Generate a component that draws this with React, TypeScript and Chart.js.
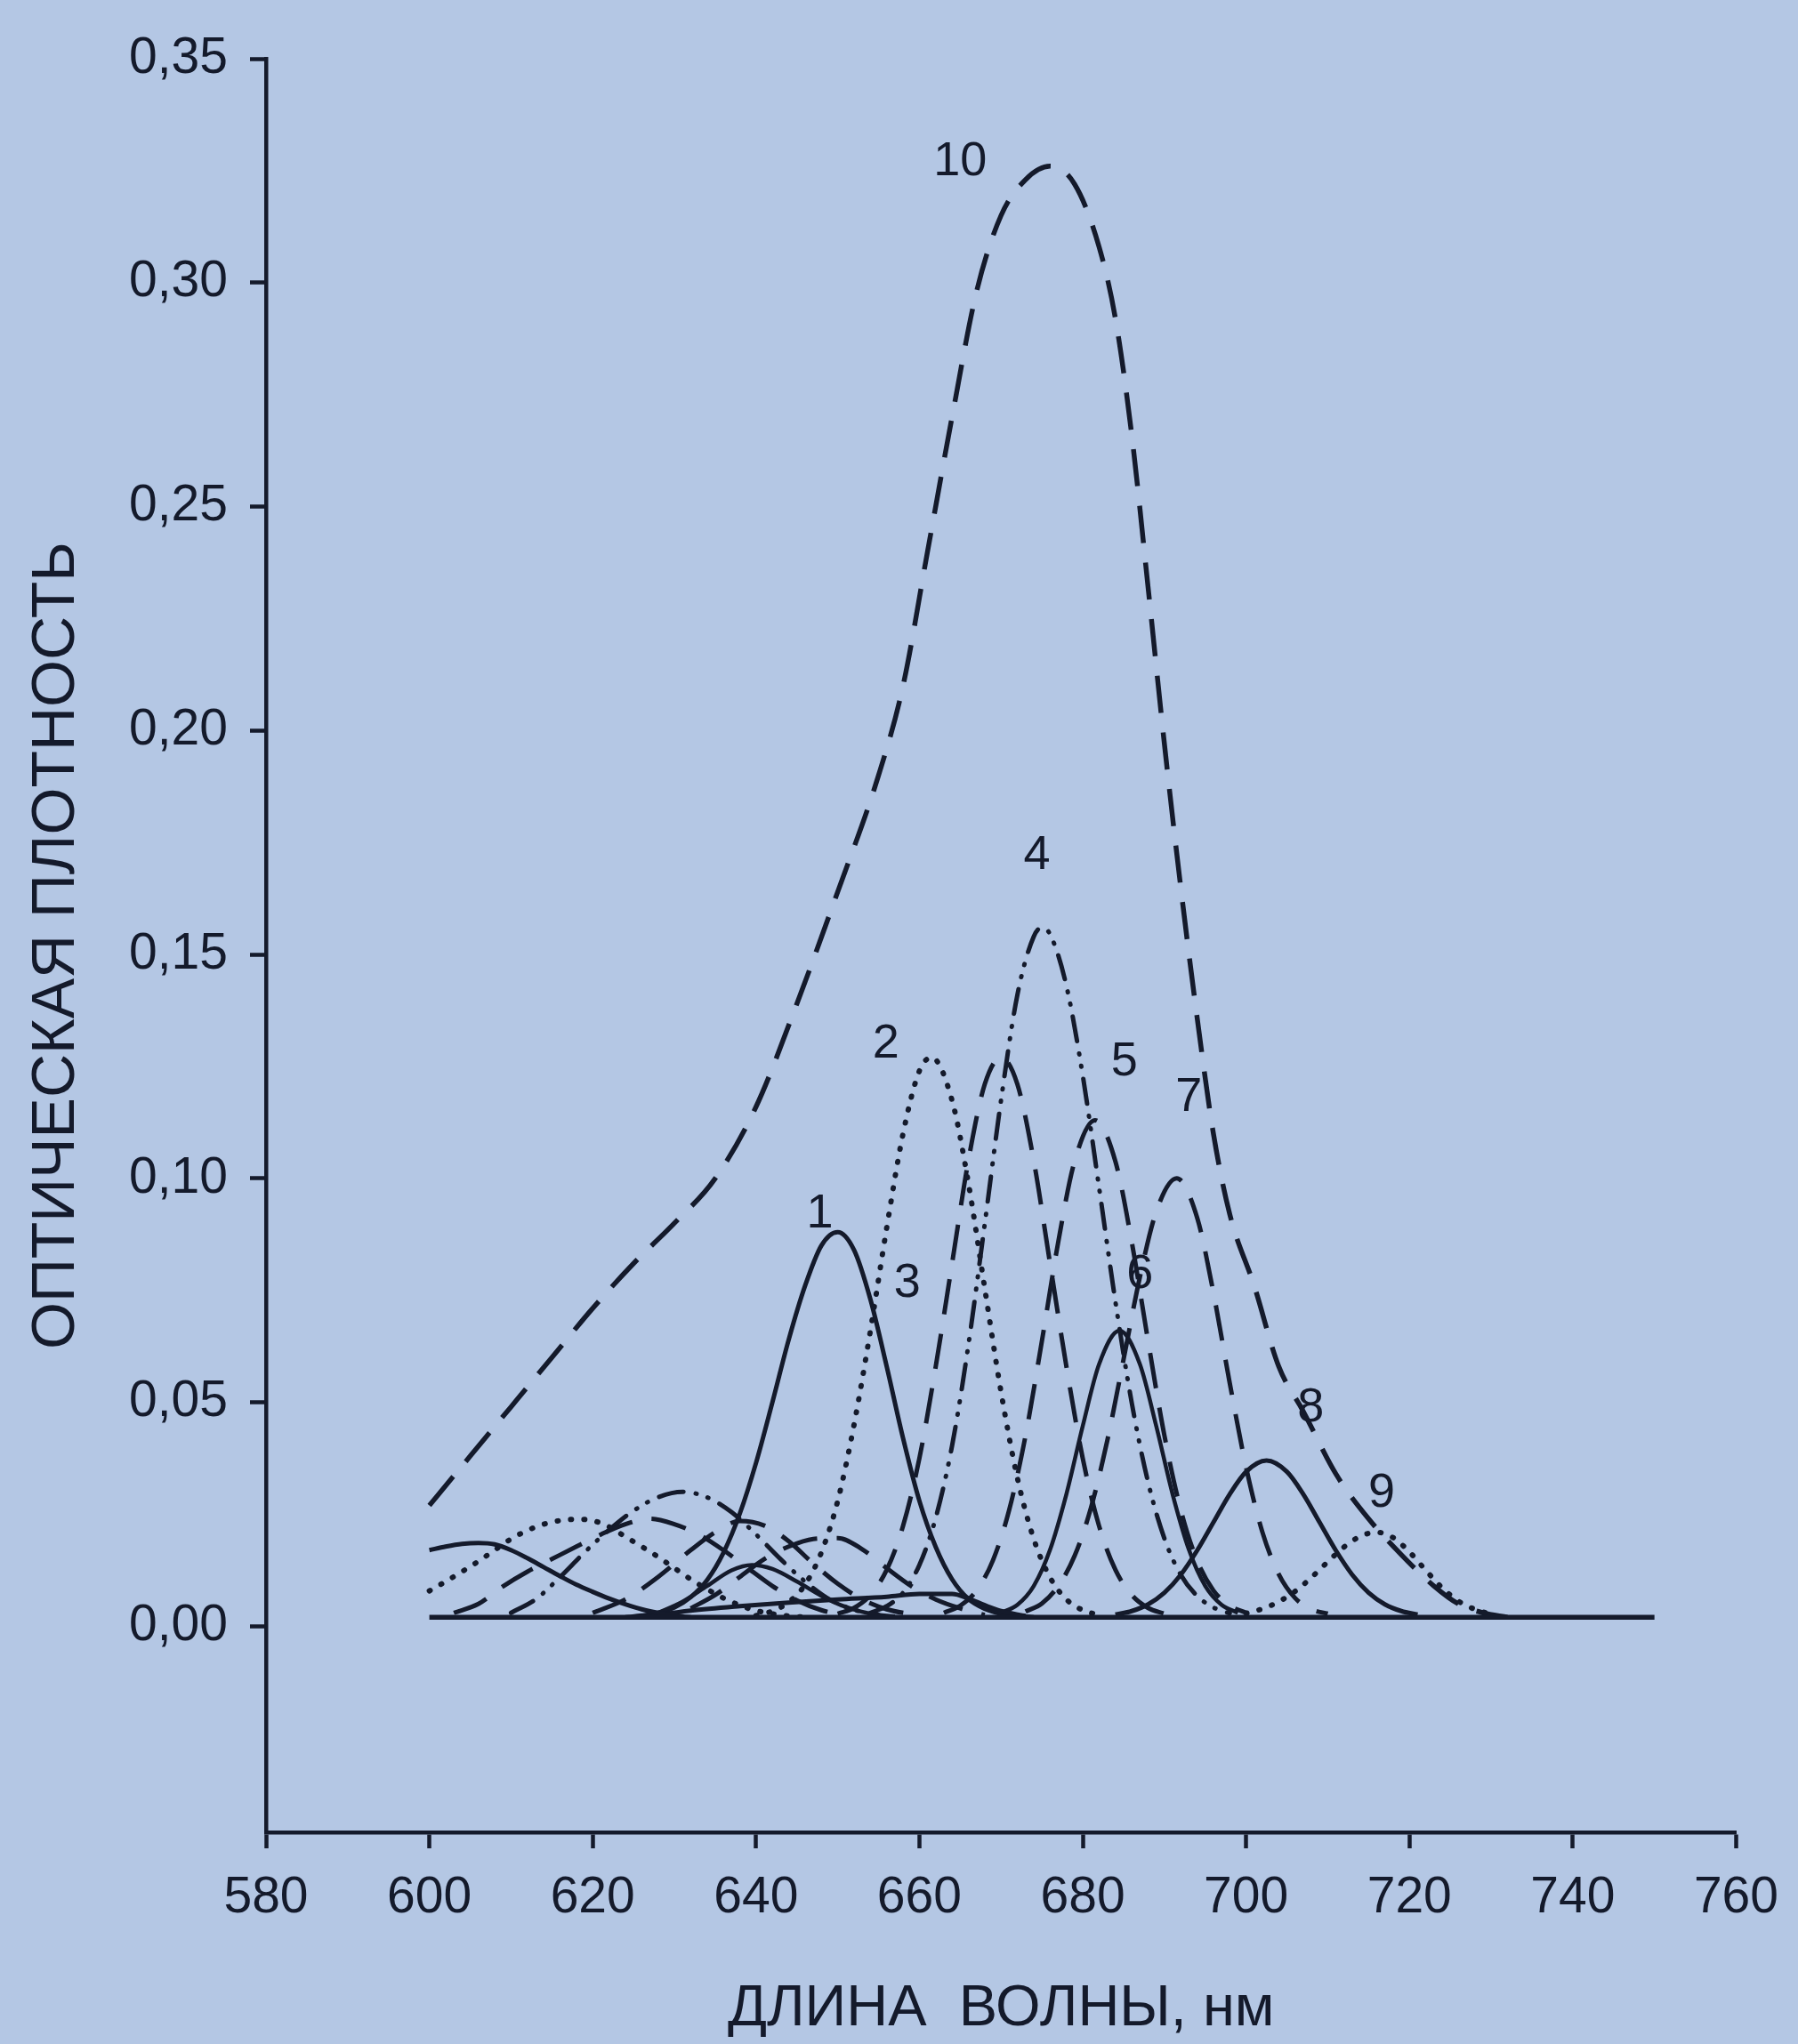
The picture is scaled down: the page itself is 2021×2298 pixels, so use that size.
import React, { useEffect, useRef } from 'react';
import { Chart, registerables } from 'chart.js';

Chart.register(...registerables);

const INK = '#141a2b';
const PAPER = '#b4c7e4';
const FONT = '"Liberation Sans", Arial, Helvetica, sans-serif';

// ---- axes ----
const yTickValues = [0, 0.05, 0.1, 0.15, 0.2, 0.25, 0.3, 0.35];
const xTitle = 'ДЛИНА  ВОЛНЫ, нм';
const yTitle = 'ОПТИЧЕСКАЯ ПЛОТНОСТЬ';

// ---- curve 10 (sum) ----
const wl10 = [600, 605, 610, 615, 620, 625, 630, 635, 640, 645, 650, 655, 658, 661, 664, 667, 670, 673, 676, 679, 682, 684, 686, 688, 690, 692, 694, 696, 698, 701, 704, 707, 711, 715, 719, 723, 726, 729, 732];
const od10 = [0.027, 0.038, 0.049, 0.06, 0.071, 0.081, 0.09, 0.1, 0.116, 0.139, 0.164, 0.19, 0.21, 0.24, 0.27, 0.298, 0.315, 0.323, 0.326, 0.322, 0.308, 0.292, 0.266, 0.232, 0.197, 0.165, 0.136, 0.11, 0.092, 0.076, 0.058, 0.048, 0.034, 0.024, 0.016, 0.009, 0.005, 0.003, 0.002];

// ---- main components ----
const wl1 = [624, 626, 628, 630, 632, 634, 636, 638, 640, 642, 644, 646, 648, 650, 652, 654, 656, 658, 660, 662, 664, 666, 668, 670, 674];
const od1 = [0.002, 0.0024, 0.003, 0.0042, 0.0065, 0.0103, 0.0164, 0.0251, 0.0365, 0.05, 0.064, 0.076, 0.085, 0.088, 0.084, 0.073, 0.058, 0.042, 0.028, 0.0177, 0.0105, 0.0061, 0.0039, 0.0028, 0.002];

const wl2 = [640, 642, 644, 646, 648, 650, 652, 654, 656, 658, 660, 661.5, 664, 666, 668, 670, 672, 674, 676, 678, 680, 682];
const od2 = [0.0024, 0.0034, 0.0054, 0.0093, 0.0165, 0.028, 0.045, 0.066, 0.089, 0.11, 0.124, 0.127, 0.1174, 0.099, 0.0755, 0.0523, 0.0331, 0.0195, 0.0109, 0.006, 0.0036, 0.0025];

const wl3 = [650, 652, 654, 656, 658, 660, 662, 664, 666, 668, 670, 672, 674, 676, 678, 680, 682, 684, 686, 688, 690];
const od3 = [0.0028, 0.0041, 0.007, 0.0126, 0.0224, 0.0375, 0.058, 0.081, 0.104, 0.121, 0.127, 0.121, 0.104, 0.081, 0.058, 0.0375, 0.0224, 0.0126, 0.007, 0.0041, 0.0028];

const wl4 = [654, 656, 658, 660, 662, 664, 666, 668, 670, 672, 674, 675, 676, 678, 680, 682, 684, 686, 688, 690, 692, 694, 696, 698];
const od4 = [0.003, 0.0045, 0.0075, 0.0137, 0.0242, 0.0403, 0.0628, 0.0898, 0.1175, 0.141, 0.154, 0.156, 0.1545, 0.143, 0.123, 0.098, 0.0725, 0.0499, 0.0322, 0.0196, 0.0115, 0.0068, 0.0042, 0.0029];

const wl5 = [663, 665, 667, 669, 671, 673, 675, 677, 679, 681.5, 684, 686, 688, 690, 692, 694, 696, 698, 700];
const od5 = [0.003, 0.0046, 0.008, 0.0147, 0.026, 0.0426, 0.0637, 0.0858, 0.1038, 0.113, 0.1038, 0.0858, 0.0637, 0.0426, 0.026, 0.0147, 0.008, 0.0046, 0.003];

const wl6 = [670, 672, 674, 676, 678, 680, 682, 684.5, 687, 689, 691, 693, 695, 697, 699];
const od6 = [0.003, 0.0048, 0.009, 0.0171, 0.0295, 0.0447, 0.0585, 0.066, 0.0585, 0.0447, 0.0295, 0.0171, 0.009, 0.0048, 0.003];

const wl7 = [673, 675, 677, 679, 681, 683, 685, 687, 689, 691.5, 694, 696, 698, 700, 702, 704, 706, 708, 710];
const od7 = [0.0033, 0.0051, 0.009, 0.0157, 0.0264, 0.0414, 0.0596, 0.078, 0.0926, 0.1, 0.0913, 0.0745, 0.0543, 0.0355, 0.021, 0.0116, 0.0063, 0.0038, 0.0028];

const wl8 = [684, 686, 688, 690, 692, 694, 696, 698, 700, 702.5, 705, 707, 709, 711, 713, 715, 717, 719, 721];
const od8 = [0.0026, 0.0034, 0.0049, 0.0075, 0.0115, 0.0169, 0.0232, 0.0295, 0.0345, 0.037, 0.0345, 0.0295, 0.0232, 0.0169, 0.0115, 0.0075, 0.0049, 0.0034, 0.0026];

const wl9 = [700, 702, 704, 706, 708, 710, 712, 714, 716, 718, 720, 722, 724, 726, 728, 730];
const od9 = [0.0029, 0.0039, 0.0055, 0.0078, 0.0109, 0.0144, 0.0177, 0.0201, 0.021, 0.0198, 0.0166, 0.0125, 0.0086, 0.0056, 0.0038, 0.0027];

// ---- small satellite bands (600–670 nm) ----
const wlS1 = [600, 602, 604, 606, 608, 610, 612, 614, 616, 618, 620, 622, 624, 626, 628, 630, 632];
const odS1 = [0.017, 0.0178, 0.0184, 0.0186, 0.0183, 0.017, 0.0152, 0.0132, 0.0112, 0.0093, 0.0077, 0.0062, 0.0049, 0.0038, 0.003, 0.0024, 0.002];

const wlS2 = [600, 602, 604, 606, 608, 610, 612, 614, 616, 618, 620, 622, 624, 626, 628, 630, 632, 634, 636, 638, 640, 643, 646];
const odS2 = [0.0079, 0.01, 0.0122, 0.0145, 0.017, 0.0195, 0.0214, 0.0228, 0.0236, 0.0239, 0.0236, 0.0222, 0.02, 0.0178, 0.0155, 0.013, 0.0105, 0.0083, 0.0063, 0.0047, 0.0035, 0.0025, 0.002];

const wlS3 = [603, 606, 609, 612, 615, 618, 621, 624, 627, 630, 633, 636, 639, 642, 645, 648, 651];
const odS3 = [0.003, 0.005, 0.0089, 0.0122, 0.015, 0.0178, 0.0205, 0.0228, 0.024, 0.0228, 0.0205, 0.017, 0.013, 0.009, 0.0058, 0.0036, 0.0024];

const wlS4 = [610, 613, 616, 619, 622, 625, 628, 631, 634, 637, 640, 643, 646, 649, 652, 655];
const odS4 = [0.003, 0.006, 0.011, 0.0165, 0.0215, 0.0258, 0.0288, 0.03, 0.0288, 0.0255, 0.0205, 0.015, 0.01, 0.006, 0.0037, 0.0025];

const wlS5 = [620, 624, 628, 632, 635, 638, 641, 644, 647, 650, 653, 656, 660];
const odS5 = [0.003, 0.006, 0.011, 0.017, 0.021, 0.0235, 0.0225, 0.019, 0.014, 0.0095, 0.006, 0.0038, 0.0024];

const wlS6 = [628, 631, 634, 637, 639.5, 642, 645, 648, 651, 654, 657];
const odS6 = [0.003, 0.0055, 0.009, 0.0125, 0.0137, 0.0128, 0.01, 0.0068, 0.0043, 0.0028, 0.0022];

const wlS7 = [632, 635, 638, 641, 644, 647, 650, 653, 656, 659, 662, 665, 668];
const odS7 = [0.004, 0.007, 0.011, 0.015, 0.0178, 0.0195, 0.0197, 0.0172, 0.013, 0.009, 0.006, 0.004, 0.0025];

const wlS8 = [626, 632, 638, 644, 650, 656, 660, 664, 666, 668, 670, 673];
const odS8 = [0.002, 0.0035, 0.0045, 0.0053, 0.006, 0.0066, 0.0072, 0.0072, 0.0062, 0.0047, 0.0034, 0.0023];

const wlBase = [600, 750];
const odBase = [0.002, 0.002];

// ---- curve number labels ----
const labelText = ['1', '2', '3', '4', '5', '6', '7', '8', '9', '10'];
const labelWl = [647.8, 655.9, 658.5, 674.4, 685.1, 687.0, 693.0, 707.9, 716.6, 665.0];
const labelOd = [0.092, 0.13, 0.0766, 0.172, 0.126, 0.0785, 0.118, 0.0488, 0.0297, 0.327];

// ---- line styles ----
const SOLID: number[] = [];
const LONG_DASH = [40, 22];
const SUM_DASH = [42, 22];
const DOTS = [1, 14];
const DASH_DOT_DOT = [28, 14, 1, 13, 1, 14];

type Curve = { wl: number[]; od: number[]; dash: number[]; width: number; round: boolean };

const curves: Curve[] = [
  { wl: wlBase, od: odBase, dash: SOLID, width: 5.5, round: false },
  { wl: wlS1, od: odS1, dash: SOLID, width: 5, round: false },
  { wl: wlS2, od: odS2, dash: DOTS, width: 6, round: true },
  { wl: wlS3, od: odS3, dash: LONG_DASH, width: 5, round: false },
  { wl: wlS4, od: odS4, dash: DASH_DOT_DOT, width: 5, round: true },
  { wl: wlS5, od: odS5, dash: LONG_DASH, width: 5, round: false },
  { wl: wlS6, od: odS6, dash: SOLID, width: 4.5, round: false },
  { wl: wlS7, od: odS7, dash: LONG_DASH, width: 5, round: false },
  { wl: wlS8, od: odS8, dash: SOLID, width: 5, round: false },
  { wl: wl1, od: od1, dash: SOLID, width: 5, round: false },
  { wl: wl2, od: od2, dash: DOTS, width: 6, round: true },
  { wl: wl3, od: od3, dash: LONG_DASH, width: 5, round: false },
  { wl: wl4, od: od4, dash: DASH_DOT_DOT, width: 5, round: true },
  { wl: wl5, od: od5, dash: LONG_DASH, width: 5, round: false },
  { wl: wl6, od: od6, dash: SOLID, width: 4.5, round: false },
  { wl: wl7, od: od7, dash: LONG_DASH, width: 5, round: false },
  { wl: wl8, od: od8, dash: SOLID, width: 5, round: false },
  { wl: wl9, od: od9, dash: DOTS, width: 6, round: true },
  { wl: wl10, od: od10, dash: SUM_DASH, width: 5.5, round: false },
];

export default function App() {
  const ref = useRef<HTMLCanvasElement>(null);

  useEffect(() => {
    const canvas = ref.current;
    if (!canvas) return;

    const datasets = curves.map((c) => ({
      data: c.wl.map((x, i) => ({ x, y: c.od[i] })),
      borderColor: INK,
      borderWidth: c.width,
      borderDash: c.dash,
      borderCapStyle: c.round ? 'round' : 'butt',
      borderJoinStyle: 'round',
      pointRadius: 0,
      pointHoverRadius: 0,
      fill: false,
      cubicInterpolationMode: 'monotone',
    }));

    const paperPlugin = {
      id: 'paper',
      beforeDraw(chart: any) {
        const { ctx, width, height } = chart;
        ctx.save();
        ctx.fillStyle = PAPER;
        ctx.fillRect(0, 0, width, height);
        ctx.restore();
      },
    };

    const labelPlugin = {
      id: 'curveLabels',
      afterDatasetsDraw(chart: any) {
        const { ctx } = chart;
        const xs = chart.scales.x;
        const ys = chart.scales.y;
        ctx.save();
        ctx.font = `54px ${FONT}`;
        ctx.fillStyle = INK;
        ctx.textAlign = 'center';
        ctx.textBaseline = 'middle';
        labelText.forEach((t, i) => {
          ctx.fillText(t, xs.getPixelForValue(labelWl[i]), ys.getPixelForValue(labelOd[i]));
        });
        ctx.restore();
      },
    };

    const tickFont = { family: FONT, size: 57 };

    const chart = new Chart(canvas, {
      type: 'line',
      data: { datasets: datasets as any },
      options: {
        animation: false,
        responsive: false,
        devicePixelRatio: 1,
        layout: { padding: { left: 0, right: 62, top: 66, bottom: 0 } },
        plugins: { legend: { display: false }, tooltip: { enabled: false } },
        scales: {
          x: {
            type: 'linear',
            min: 580,
            max: 760,
            ticks: {
              stepSize: 20,
              autoSkip: false,
              maxRotation: 0,
              font: tickFont,
              color: INK,
              padding: 22,
            },
            grid: {
              display: true,
              drawOnChartArea: false,
              drawTicks: true,
              tickLength: 18,
              tickWidth: 4.5,
              tickColor: INK,
            },
            border: { display: true, color: INK, width: 4.5 },
            title: {
              display: true,
              text: xTitle,
              color: INK,
              font: { family: FONT, size: 65 },
              padding: { top: 0, bottom: 0 },
            },
            afterFit(scale: any) {
              scale.height = 238;
            },
          },
          y: {
            type: 'linear',
            min: -0.046,
            max: 0.35,
            afterBuildTicks(scale: any) {
              scale.ticks = yTickValues.map((v) => ({ value: v }));
            },
            ticks: {
              font: tickFont,
              color: INK,
              padding: 25,
              callback: (v: any) => Number(v).toFixed(2).replace('.', ','),
            },
            grid: {
              display: true,
              drawOnChartArea: false,
              drawTicks: true,
              tickLength: 18,
              tickWidth: 4.5,
              tickColor: INK,
            },
            border: { display: true, color: INK, width: 4.5 },
            title: {
              display: true,
              text: yTitle,
              color: INK,
              font: { family: FONT, size: 68 },
              padding: { top: 23, bottom: 0 },
            },
            afterFit(scale: any) {
              scale.width = 299;
            },
          },
        },
      } as any,
      plugins: [paperPlugin, labelPlugin],
    });

    return () => chart.destroy();
  }, []);

  return (
    <div style={{ position: 'fixed', left: 0, top: 0, width: 2021, height: 2298, background: PAPER }}>
      <canvas ref={ref} width={2021} height={2298} style={{ display: 'block', width: 2021, height: 2298 }} />
    </div>
  );
}
